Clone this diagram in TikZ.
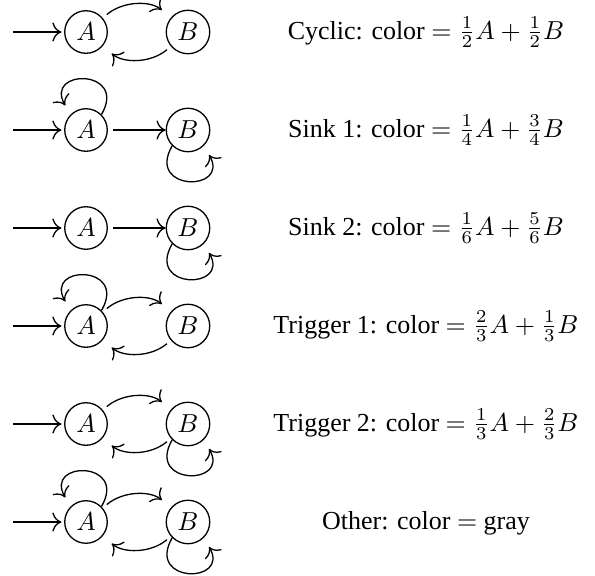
\documentclass[tikz,border=0pt]{standalone}
\usepackage[no-math]{fontspec}
\setmainfont{Liberation Serif}
\usetikzlibrary{arrows.meta}

\begin{document}
\begin{tikzpicture}[x=.385pt,y=.385pt,>={To[scale=1.3]},line width=.5pt,
    statenode/.style={circle,draw,inner sep=2.2pt},
    curvy/.style={->,shorten <=2pt,shorten >=4.5pt},
    selfloop/.style={->,shorten >=4pt,distance=20.5pt},
    rule/.style={anchor=base}]
  \useasboundingbox (0,0) rectangle (595,-576);
  % one row of states per case
  \foreach \r/\y in {1/32,2/130,3/228,4/326,5/424,6/522} {
    \node[statenode] (A\r) at (86,-\y) {$A$};
    \node[statenode] (B\r) at (188,-\y) {$B$};
    \coordinate (s\r) at (13,-\y);
    \draw[->,shorten >=1pt] (s\r) -- (A\r);
  }
  % cyclic
  \draw[curvy] (A1) to[out=40,in=140] (B1);
  \draw[curvy] (B1) to[out=220,in=320] (A1);
  % sink 1
  \draw[selfloop] (A2.45) to[out=60,in=120] (A2.135);
  \draw[->,shorten <=2pt] (A2) -- (B2);
  \draw[selfloop] (B2.225) to[out=240,in=300] (B2.315);
  % sink 2
  \draw[->,shorten <=2pt] (A3) -- (B3);
  \draw[selfloop] (B3.225) to[out=240,in=300] (B3.315);
  % trigger 1
  \draw[selfloop] (A4.45) to[out=60,in=120] (A4.135);
  \draw[curvy] (A4) to[out=40,in=140] (B4);
  \draw[curvy] (B4) to[out=220,in=320] (A4);
  % trigger 2
  \draw[curvy] (A5) to[out=40,in=140] (B5);
  \draw[curvy] (B5) to[out=220,in=320] (A5);
  \draw[selfloop] (B5.225) to[out=240,in=300] (B5.315);
  % other
  \draw[selfloop] (A6.45) to[out=60,in=120] (A6.135);
  \draw[curvy] (A6) to[out=40,in=140] (B6);
  \draw[curvy] (B6) to[out=220,in=320] (A6);
  \draw[selfloop] (B6.225) to[out=240,in=300] (B6.315);
  % resulting colours
  \node[rule] (cyc) at (426,-39) {Cyclic: color $=\frac{1}{2}A+\frac{1}{2}B$};
  \node[rule] (sk1) at (426,-137) {Sink 1: color $=\frac{1}{4}A+\frac{3}{4}B$};
  \node[rule] (sk2) at (426,-235) {Sink 2: color $=\frac{1}{6}A+\frac{5}{6}B$};
  \node[rule] (tr1) at (426,-333) {Trigger 1: color $=\frac{2}{3}A+\frac{1}{3}B$};
  \node[rule] (tr2) at (426,-431) {Trigger 2: color $=\frac{1}{3}A+\frac{2}{3}B$};
  \node[rule] (oth) at (426,-529) {Other: color $=$ gray};
\end{tikzpicture}
\end{document}
